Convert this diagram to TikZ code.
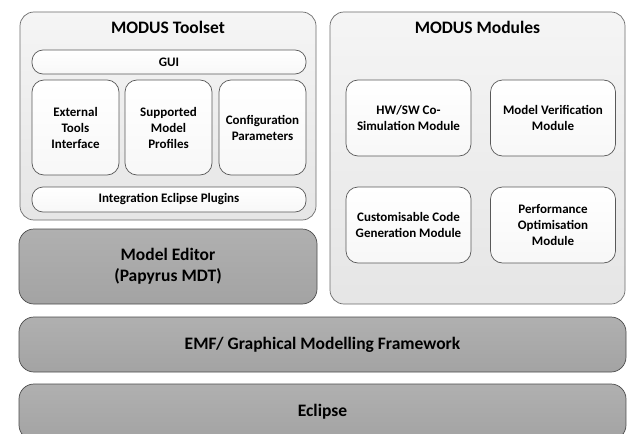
\documentclass[tikz,border=0pt]{standalone}
\usepackage{fontspec}
\setmainfont{Carlito}
\tikzset{
  panel/.style={draw=gray!85!black,rounded corners=14pt,top color=gray!8,bottom color=gray!20,line width=0.7pt},
  part/.style={draw=gray!70!black,rounded corners=12pt,top color=white,bottom color=gray!6,line width=0.7pt,
    align=center,font=\fontsize{13}{16}\selectfont\bfseries},
  layer/.style={draw=gray!60!black,rounded corners=15pt,top color=gray!62,bottom color=gray!72,line width=0.7pt,
    align=center,font=\fontsize{17.5}{21}\selectfont\bfseries},
  title/.style={font=\fontsize{17.5}{20}\selectfont\bfseries}
}
\begin{document}
\begin{tikzpicture}[x=1pt,y=-1pt]
    \useasboundingbox (0,0) rectangle (628,433);
    \clip (0,0) rectangle (628,433);
    \fill[white] (0,0) rectangle (628,433);
    % toolset
    \node[panel,minimum width=296pt,minimum height=208pt] (toolset) at (168,116) {};
    \node[title] (toolsettitle) at (168,27) {MODUS Toolset};
    \node[part,rounded corners=11pt,minimum width=274pt,minimum height=24pt] (gui) at (169,62) {GUI};
    \node[part,minimum width=87pt,minimum height=95pt] (ext) at (75.5,127.5) {External\\Tools\\Interface};
    \node[part,minimum width=87pt,minimum height=95pt] (prof) at (168.5,127.5) {Supported\\Model\\Profiles};
    \node[part,minimum width=87pt,minimum height=95pt] (conf) at (262.5,127.5) {Configuration\\Parameters};
    \node[part,rounded corners=11pt,minimum width=274pt,minimum height=25pt] (plug) at (169,199.5) {Integration Eclipse Plugins};
    % modules
    \node[panel,minimum width=295pt,minimum height=292pt] (modules) at (477.5,158) {};
    \node[title] (modulestitle) at (477.5,27) {MODUS Modules};
    \node[part,minimum width=125pt,minimum height=76pt] (cosim) at (408.5,118) {HW/SW Co-\\Simulation Module};
    \node[part,minimum width=125pt,minimum height=76pt] (verif) at (553,118) {Model Verification\\Module};
    \node[part,minimum width=125pt,minimum height=76pt] (codegen) at (408.5,225) {Customisable Code\\Generation Module};
    \node[part,minimum width=125pt,minimum height=76pt] (perf) at (553,225) {Performance\\Optimisation\\Module};
    % layers
    \node[layer,minimum width=298pt,minimum height=75pt] (editor) at (168,266.5) {Model Editor\\(Papyrus MDT)};
    \node[layer,minimum width=607pt,minimum height=55pt] (emf) at (322.5,344.5) {EMF/ Graphical Modelling Framework};
    \node[layer,minimum width=607pt,minimum height=56pt] (eclipse) at (322.5,412) {Eclipse};
  \end{tikzpicture}
\end{document}
